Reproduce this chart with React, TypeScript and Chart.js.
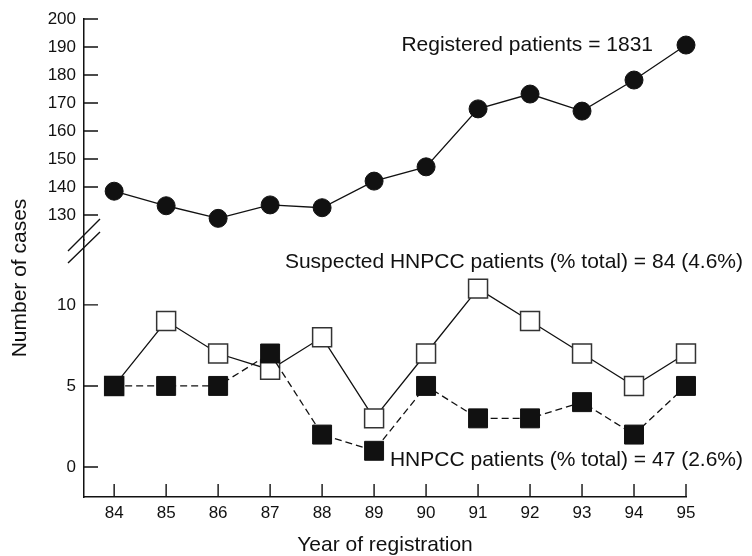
import React, { useEffect, useRef } from 'react';
import { Chart, registerables } from 'chart.js';

Chart.register(...registerables);

const years = [84, 85, 86, 87, 88, 89, 90, 91, 92, 93, 94, 95];
const registeredPatients = [138.5, 133.3, 128.8, 133.6, 132.6, 142.1, 147.2, 167.9, 173.2, 167.1, 178.2, 190.7];
const suspectedHnpcc = [5, 9, 7, 6, 8, 3, 7, 11, 9, 7, 5, 7];
const hnpccPatients = [5, 5, 5, 7, 2, 1, 5, 3, 3, 4, 2, 5];
const upperTicks = [130, 140, 150, 160, 170, 180, 190, 200];
const lowerTicks = [0, 5, 10];
const yearTicks = years;

const registeredLabel = 'Registered patients = 1831';
const suspectedLabel = 'Suspected HNPCC patients (% total) = 84 (4.6%)';
const hnpccLabel = 'HNPCC patients (% total) = 47 (2.6%)';
const xTitle = 'Year of registration';
const yTitle = 'Number of cases';

const INK = '#111';
const FONT = "'Liberation Sans', Arial, sans-serif";

const decor = {
  id: 'decor',
  beforeDatasetsDraw(chart: any) {
    const { ctx, chartArea: area } = chart;
    const x = chart.scales.x;
    const yT = chart.scales.yTop;
    const yB = chart.scales.yBottom;
    ctx.save();
    ctx.strokeStyle = INK;
    ctx.lineWidth = 1.4;
    ctx.beginPath();
    for (const v of upperTicks) {
      const p = yT.getPixelForValue(v);
      ctx.moveTo(area.left, p);
      ctx.lineTo(area.left + 14, p);
    }
    for (const v of lowerTicks) {
      const p = yB.getPixelForValue(v);
      ctx.moveTo(area.left, p);
      ctx.lineTo(area.left + 14, p);
    }
    for (const v of yearTicks) {
      const p = x.getPixelForValue(v);
      ctx.moveTo(p, area.bottom);
      ctx.lineTo(p, area.bottom - 13);
    }
    // axis break marks
    const b = yT.bottom;
    ctx.moveTo(area.left - 16, b + 11);
    ctx.lineTo(area.left + 16, b - 21);
    ctx.moveTo(area.left - 16, b + 23);
    ctx.lineTo(area.left + 16, b - 8);
    ctx.stroke();
    ctx.restore();
  },
  afterDraw(chart: any) {
    const { ctx, chartArea: area } = chart;
    const x = chart.scales.x;
    const yT = chart.scales.yTop;
    const yB = chart.scales.yBottom;
    ctx.save();
    ctx.fillStyle = INK;
    ctx.font = `21px ${FONT}`;
    ctx.textAlign = 'right';
    ctx.textBaseline = 'middle';
    const last = years.length - 1;
    ctx.fillText(registeredLabel, x.getPixelForValue(years[last]) - 33, yT.getPixelForValue(registeredPatients[last]));
    ctx.fillText(suspectedLabel, area.right + 57, yB.getPixelForValue(12.6));
    ctx.fillText(hnpccLabel, area.right + 57, yB.getPixelForValue(0.43));
    ctx.translate(20, 278);
    ctx.rotate(-Math.PI / 2);
    ctx.textAlign = 'center';
    ctx.fillText(yTitle, 0, 0);
    ctx.restore();
  },
};

export default function App() {
  const ref = useRef<HTMLCanvasElement | null>(null);
  useEffect(() => {
    if (!ref.current) return;
    Chart.defaults.font.family = FONT;
    const tickFont = { size: 17 };
    const chart = new Chart(ref.current, {
      type: 'line',
      data: {
        datasets: [
          {
            label: 'HNPCC patients',
            data: years.map((y, i) => ({ x: y, y: hnpccPatients[i] })),
            yAxisID: 'yBottom',
            borderColor: INK,
            borderWidth: 1.3,
            borderDash: [7, 4],
            pointStyle: 'rect',
            pointRadius: 13.4,
            pointBackgroundColor: INK,
            pointBorderColor: INK,
            pointBorderWidth: 1,
            clip: false as any,
            order: 0,
          },
          {
            label: 'Suspected HNPCC patients',
            data: years.map((y, i) => ({ x: y, y: suspectedHnpcc[i] })),
            yAxisID: 'yBottom',
            borderColor: INK,
            borderWidth: 1.3,
            pointStyle: 'rect',
            pointRadius: 13.4,
            pointBackgroundColor: '#fff',
            pointBorderColor: '#333',
            pointBorderWidth: 1.5,
            clip: false as any,
            order: 1,
          },
          {
            label: 'Registered patients',
            data: years.map((y, i) => ({ x: y, y: registeredPatients[i] })),
            yAxisID: 'yTop',
            borderColor: INK,
            borderWidth: 1.3,
            pointStyle: 'circle',
            pointRadius: 9,
            pointBackgroundColor: INK,
            pointBorderColor: INK,
            pointBorderWidth: 1,
            clip: false as any,
            order: 2,
          },
        ],
      },
      options: {
        animation: false,
        responsive: true,
        maintainAspectRatio: false,
        layout: { padding: { top: 19, right: 66, bottom: 0, left: 0 } },
        plugins: { legend: { display: false }, tooltip: { enabled: false } },
        scales: {
          x: {
            type: 'linear',
            min: 83.42,
            max: 95,
            afterBuildTicks: (s: any) => { s.ticks = yearTicks.map((v) => ({ value: v })); },
            afterFit: (s: any) => { s.height = 59; },
            grid: { display: false, drawTicks: false },
            border: { display: true, color: INK, width: 1.5 },
            ticks: { color: INK, font: tickFont, padding: 6, maxRotation: 0, autoSkip: false },
            title: { display: true, text: xTitle, color: INK, font: { size: 21 }, padding: { top: 0, bottom: -2 } },
          },
          yBottom: {
            type: 'linear',
            position: 'left',
            stack: 'cases',
            stackWeight: 257,
            min: -1.85,
            max: 14,
            afterBuildTicks: (s: any) => { s.ticks = lowerTicks.map((v) => ({ value: v })); },
            afterFit: (s: any) => { s.width = 84; },
            grid: { display: false, drawTicks: false },
            border: { display: true, color: INK, width: 1.5 },
            ticks: { color: INK, font: tickFont, padding: 8, autoSkip: false },
          },
          yTop: {
            type: 'linear',
            position: 'left',
            stack: 'cases',
            stackWeight: 221,
            min: 121.07,
            max: 200,
            afterBuildTicks: (s: any) => { s.ticks = upperTicks.map((v) => ({ value: v })); },
            afterFit: (s: any) => { s.width = 84; },
            grid: { display: false, drawTicks: false },
            border: { display: true, color: INK, width: 1.5 },
            ticks: { color: INK, font: tickFont, padding: 8, autoSkip: false },
          },
        },
      } as any,
      plugins: [decor],
    });
    return () => chart.destroy();
  }, []);
  return (
    <div style={{ position: 'fixed', left: 0, top: 0, width: 752, height: 556, background: '#fff' }}>
      <canvas ref={ref} />
    </div>
  );
}
